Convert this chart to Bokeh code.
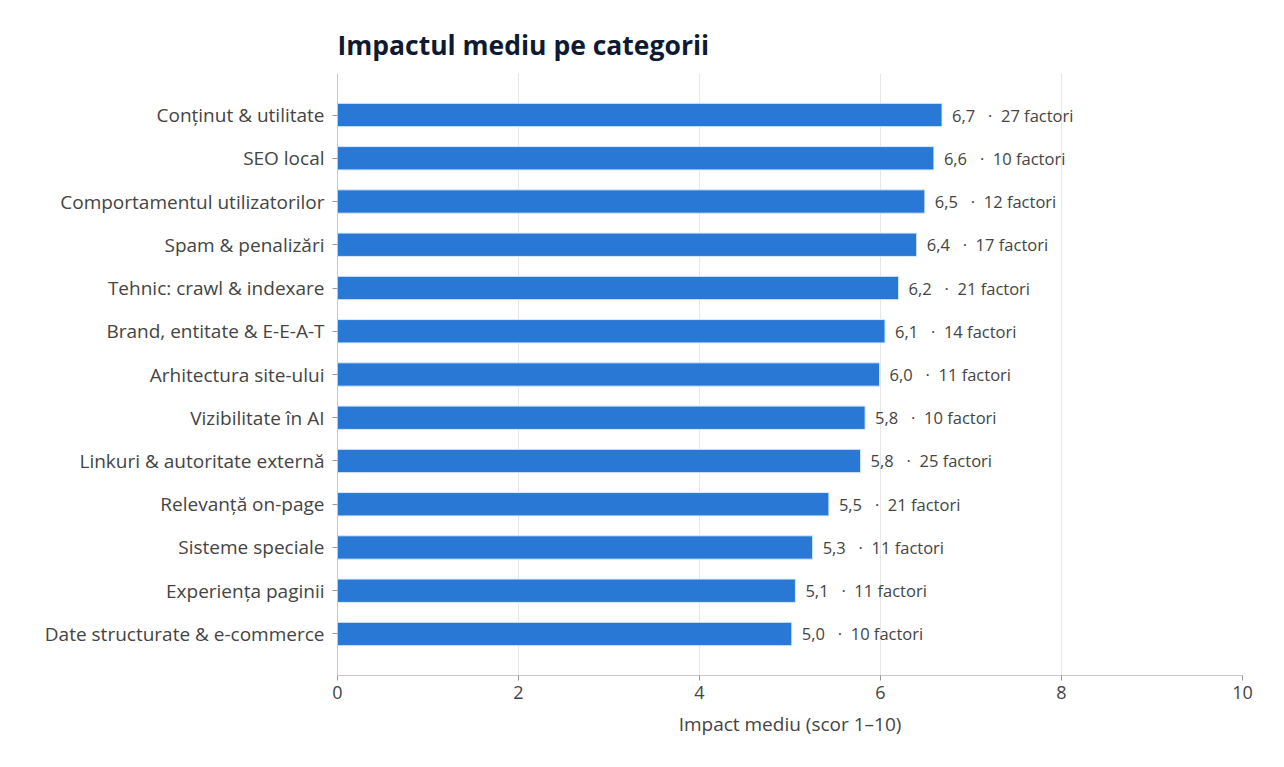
from bokeh.plotting import figure
from bokeh.models import ColumnDataSource, FactorRange
from bokeh.core.properties import value
from bokeh.embed import file_html
from bokeh.resources import INLINE

FONT = "Open Sans"

categories = [
    "Conținut & utilitate",
    "SEO local",
    "Comportamentul utilizatorilor",
    "Spam & penalizări",
    "Tehnic: crawl & indexare",
    "Brand, entitate & E-E-A-T",
    "Arhitectura site-ului",
    "Vizibilitate în AI",
    "Linkuri & autoritate externă",
    "Relevanță on-page",
    "Sisteme speciale",
    "Experiența paginii",
    "Date structurate & e-commerce",
]
# bar lengths
impact = [6.68, 6.59, 6.49, 6.40, 6.20, 6.05, 5.99, 5.83, 5.78, 5.43, 5.25, 5.06, 5.02]
# scores as printed next to the bars
impact_label = ["6,7", "6,6", "6,5", "6,4", "6,2", "6,1", "6,0",
                "5,8", "5,8", "5,5", "5,3", "5,1", "5,0"]
factor_count = [27, 10, 12, 17, 21, 14, 11, 10, 25, 21, 11, 11, 10]

labels = [f"{s}\u00a0\u00a0\u00a0·\u00a0\u00a0{n} factori" for s, n in zip(impact_label, factor_count)]

source = ColumnDataSource(data=dict(cat=categories, impact=impact, label=labels))

p = figure(
    title="Impactul mediu pe categorii",
    width=1268,
    height=755,
    y_range=FactorRange(factors=categories[::-1], range_padding=0.46,
                        range_padding_units="absolute"),
    x_range=(0, 10),
    x_axis_label="Impact mediu (scor 1–10)",
    output_backend="svg",
    toolbar_location=None,
    min_border_left=337,
    min_border_right=26,
    min_border_top=73,
    min_border_bottom=80,
)

# bars
p.hbar(y="cat", right="impact", height=0.54, source=source,
       fill_color="#2a78d6", line_color="#dbeafb", line_width=1)

# value + factor count labels
p.text(x="impact", y="cat", text="label", source=source,
       x_offset=10, text_baseline="middle", text_align="left",
       text_font=value(FONT), text_font_size="16.5px", text_color="#444444")

# title
p.title.text_font = FONT
p.title.text_font_size = "26.5px"
p.title.text_font_style = "bold"
p.title.text_color = "#0e1a33"
p.title.standoff = 21

# grid
p.ygrid.grid_line_color = None
p.xgrid.grid_line_color = "#e6e6e6"
p.xgrid.ticker = [2, 4, 6, 8, 10]
p.outline_line_color = None

# axes
p.xaxis.ticker = [0, 2, 4, 6, 8, 10]
for ax in (p.xaxis[0], p.yaxis[0]):
    ax.axis_line_color = "#c8c8c8"
    ax.major_tick_line_color = "#999999"
    ax.minor_tick_line_color = None
    ax.major_label_text_font = FONT
    ax.major_label_text_color = "#444444"
    ax.major_tick_in = 0
    ax.major_tick_out = 5

p.yaxis.major_label_text_font_size = "19px"
p.xaxis.major_label_text_font_size = "18px"
p.yaxis.major_label_standoff = 8
p.xaxis.major_label_standoff = 5
p.xaxis.axis_label_text_font = FONT
p.xaxis.axis_label_text_font_size = "19px"
p.xaxis.axis_label_text_font_style = "normal"
p.xaxis.axis_label_text_color = "#444444"
p.xaxis.axis_label_standoff = 9

open("out.html", "w").write(file_html(p, INLINE))
